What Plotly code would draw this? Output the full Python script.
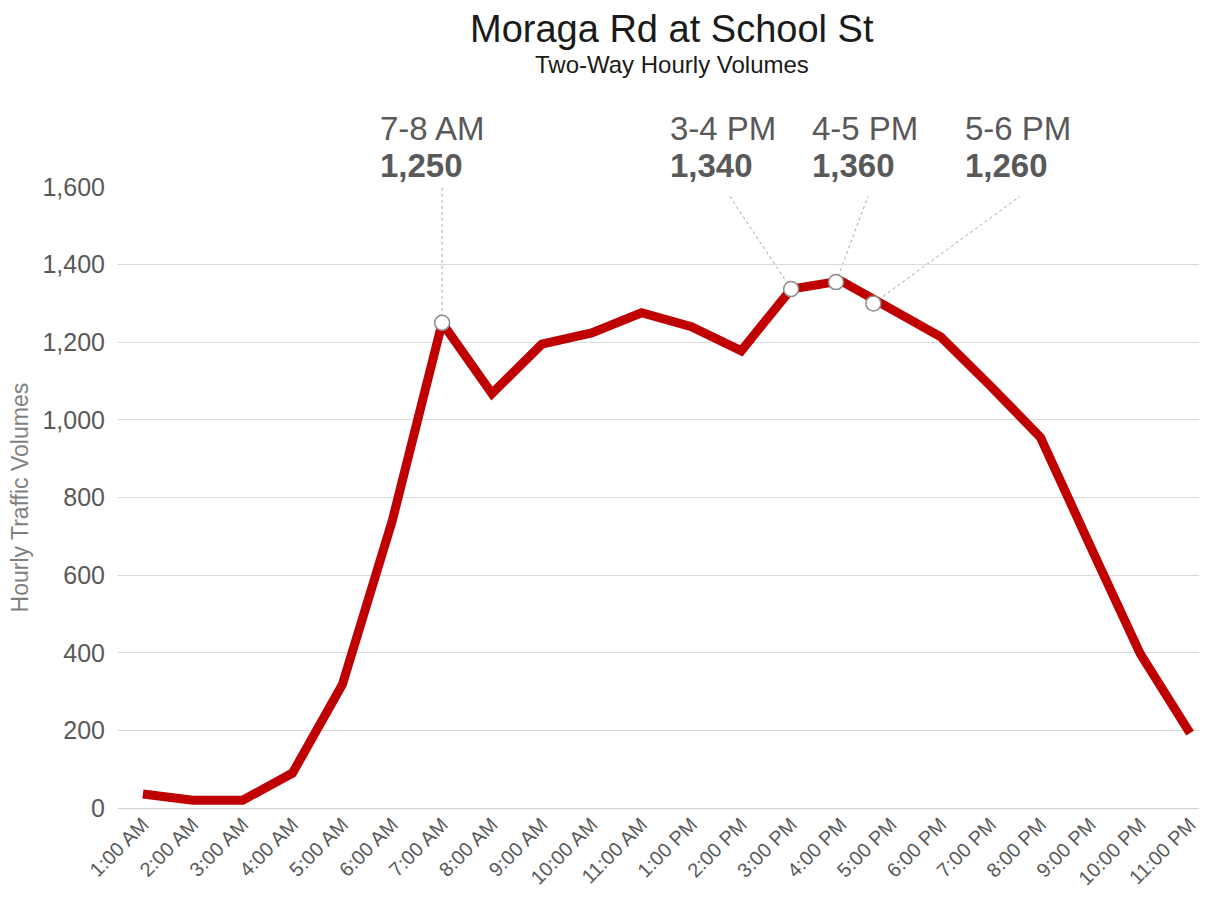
import plotly.graph_objects as go

hours = ["1:00 AM", "2:00 AM", "3:00 AM", "4:00 AM", "5:00 AM", "6:00 AM", "7:00 AM",
         "8:00 AM", "9:00 AM", "10:00 AM", "11:00 AM", "1:00 PM", "2:00 PM", "3:00 PM",
         "4:00 PM", "5:00 PM", "6:00 PM", "7:00 PM", "8:00 PM", "9:00 PM", "10:00 PM", "11:00 PM"]
volumes = [36, 20, 20, 90, 318, 740, 1250, 1068, 1195, 1224, 1276, 1240, 1178, 1337,
           1358, 1283, 1214, 1087, 955, 675, 398, 193]

peak_labels = ["7-8 AM", "3-4 PM", "4-5 PM", "5-6 PM"]
peak_values = ["1,250", "1,340", "1,360", "1,260"]
peak_x = [6, 13, 13.9, 14.65]
peak_y = [1250, 1337, 1355, 1300]

x_idx = list(range(len(hours)))
FONT = "Liberation Sans, Arial, Helvetica, sans-serif"

fig = go.Figure()
fig.add_trace(go.Scatter(
    x=x_idx, y=volumes, mode="lines",
    line=dict(color="#c00000", width=9),
    hoverinfo="skip", showlegend=False,
))

# leader lines (callout connectors)
label_left = [4.71, 10.53, 13.38, 16.45]
leader_top_x = [6, 11.77, 14.54, 17.59]
leader_top_y = [1.003, 0.985, 0.985, 0.985]
for tx, ty, px, py in zip(leader_top_x, leader_top_y, peak_x, peak_y):
    fig.add_shape(type="line", xref="x", yref="y", x0=px, y0=py, x1=tx, y1=ty * 1600,
                  line=dict(color="#a6a6a6", width=1, dash="dot"), layer="below")

fig.add_trace(go.Scatter(
    x=peak_x, y=peak_y, mode="markers",
    marker=dict(size=15, color="white", line=dict(color="#8c8c8c", width=1.5)),
    hoverinfo="skip", showlegend=False, cliponaxis=False,
))

for lx, lab, val in zip(label_left, peak_labels, peak_values):
    fig.add_annotation(x=lx, y=1.095, xref="x", yref="paper", text=lab, showarrow=False,
                       xanchor="left", yanchor="middle",
                       font=dict(family=FONT, size=33, color="#595959"))
    fig.add_annotation(x=lx, y=1.0354, xref="x", yref="paper", text="<b>" + val + "</b>",
                       showarrow=False, xanchor="left", yanchor="middle",
                       font=dict(family=FONT, size=33, color="#595959"))

fig.add_annotation(x=0.5125, y=1.2545, xref="paper", yref="paper", text="Moraga Rd at School St",
                   showarrow=False, xanchor="center", yanchor="middle", borderpad=0,
                   font=dict(family=FONT, size=38, color="#1a1a1a"))
fig.add_annotation(x=0.5125, y=1.1965, xref="paper", yref="paper", text="Two-Way Hourly Volumes",
                   showarrow=False, xanchor="center", yanchor="middle",
                   font=dict(family=FONT, size=24, color="#1a1a1a"))
fig.add_annotation(x=-0.0907, y=0.5, xref="paper", yref="paper", text="Hourly Traffic Volumes",
                   showarrow=False, textangle=-90, xanchor="center", yanchor="middle",
                   font=dict(family=FONT, size=23, color="#7f7f7f"))

fig.update_layout(
    width=1191, height=889,
    margin=dict(l=110, r=0, t=179, b=89),
    paper_bgcolor="white", plot_bgcolor="white",
    font=dict(family=FONT, color="#595959"),
)
fig.update_xaxes(
    range=[-0.5, 21.18], tickmode="array", tickvals=x_idx, ticktext=hours,
    tickangle=-45, showgrid=False, zeroline=False, showline=False,
    tickfont=dict(size=20, color="#595959"), ticks="", ticklabeloverflow="allow",
)
fig.update_yaxes(
    range=[0, 1600], dtick=200, tickformat=",d", showgrid=True, gridcolor="#d9d9d9",
    gridwidth=1, zeroline=True, zerolinecolor="#d0d0d0", zerolinewidth=1,
    tickfont=dict(size=25, color="#595959"), ticks="", showline=False,
    ticklabelstandoff=12,
)

fig.write_html("out.html")
